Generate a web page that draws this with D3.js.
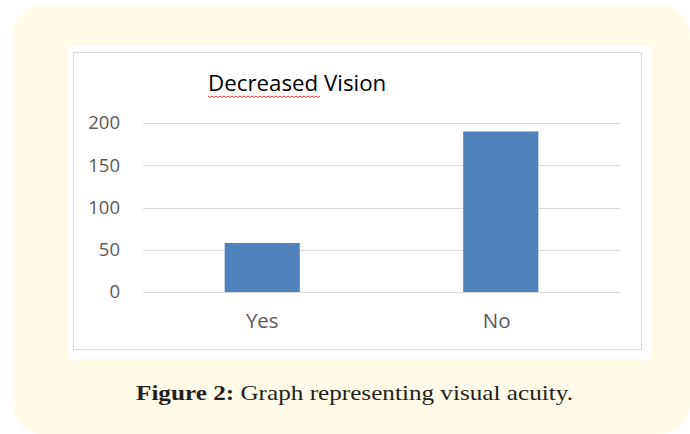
<!DOCTYPE html>
<html>
<head>
<meta charset="utf-8">
<script src="https://cdn.jsdelivr.net/npm/d3@7"></script>
<style>
  html, body { margin: 0; padding: 0; background: #ffffff; }
  svg { display: block; }
</style>
</head>
<body>
<svg id="chart" width="690" height="434"></svg>
<script>
const categories = ["Yes", "No"];
const values = [58, 190];
const yTicks = [0, 50, 100, 150, 200];
const chartTitle = "Decreased Vision";
const captionBold = "Figure 2:";
const captionText = " Graph representing visual acuity.";

const svg = d3.select("#chart");

// cream rounded background
svg.append("path")
  .attr("d", "M12.5,35 A30,30 0 0 1 42.5,5 L660,5 A30,30 0 0 1 690,35 L690,404 A30,30 0 0 1 660,434 L42.5,434 A30,30 0 0 1 12.5,404 Z")
  .attr("fill", "#fffbe8");

// white panel
svg.append("rect")
  .attr("x", 68).attr("y", 46).attr("width", 584).attr("height", 313)
  .attr("fill", "#ffffff");
// chart area border
svg.append("rect")
  .attr("x", 73.5).attr("y", 52.5).attr("width", 568).attr("height", 297)
  .attr("fill", "#ffffff").attr("stroke", "#d9d9d9").attr("stroke-width", 1);

const plotLeft = 143, plotRight = 620, plotTop = 123, plotBottom = 292;

const y = d3.scaleLinear().domain([0, 200]).range([plotBottom, plotTop]);
const x = d3.scaleBand().domain(categories).range([plotLeft, plotRight])
  .paddingInner(0.685).paddingOuter(0.3425);

// gridlines
svg.append("g").selectAll("line").data(yTicks).join("line")
  .attr("x1", plotLeft).attr("x2", plotRight)
  .attr("y1", d => Math.round(y(d)) + 0.5).attr("y2", d => Math.round(y(d)) + 0.5)
  .attr("stroke", "#d9d9d9").attr("stroke-width", 1.2);

// y axis labels
const yAxis = d3.axisLeft(y).tickValues(yTicks).tickSize(0).tickPadding(0);
const yg = svg.append("g").attr("transform", `translate(${plotLeft - 23},0)`).call(yAxis);
yg.select(".domain").remove();
yg.selectAll("text")
  .attr("font-family", "'Open Sans', sans-serif").attr("font-size", 18.5)
  .attr("fill", "#595959");

// bars
svg.append("g").selectAll("rect").data(values).join("rect")
  .attr("x", (d, i) => x(categories[i]))
  .attr("y", d => y(d))
  .attr("width", x.bandwidth())
  .attr("height", d => y(0) - y(d))
  .attr("fill", "#4f81bd");

// x axis labels
const xAxis = d3.axisBottom(x).tickSize(0).tickPadding(0);
const xg = svg.append("g").attr("transform", `translate(0,${plotBottom + 21})`).call(xAxis);
xg.select(".domain").remove();
xg.selectAll("text")
  .attr("font-family", "'Open Sans', sans-serif").attr("font-size", 20.5)
  .attr("fill", "#595959")
  .attr("dx", (d, i) => i === 1 ? -4 : 0);

// title
const titleSize = 22.3;
svg.append("text")
  .attr("x", 208).attr("y", 91)
  .attr("font-family", "'Open Sans', sans-serif").attr("font-size", titleSize)
  .attr("fill", "#000000")
  .text(chartTitle);

// red wavy spell-check underline under first word
const firstWordWidth = (() => {
  const t = svg.append("text").attr("font-family", "'Open Sans', sans-serif").attr("font-size", titleSize)
    .text(chartTitle.split(" ")[0]);
  const w = t.node().getComputedTextLength();
  t.remove();
  return w;
})();
const waveY = 96;
let wd = `M208,${waveY}`;
for (let xx = 208, k = 0; xx < 208 + firstWordWidth; xx += 2, k++) {
  wd += ` L${xx + 2},${waveY + (k % 2 === 0 ? 1.5 : 0)}`;
}
svg.append("path").attr("d", wd).attr("fill", "none")
  .attr("stroke", "#e02020").attr("stroke-width", 0.9);

// caption
const cap = svg.append("text")
  .attr("x", 136).attr("y", 400)
  .attr("font-family", "'Liberation Serif', serif").attr("font-size", 22)
  .attr("textLength", 437).attr("lengthAdjust", "spacingAndGlyphs")
  .attr("fill", "#231f20");
cap.append("tspan").attr("font-weight", "bold").text(captionBold);
cap.append("tspan").text(captionText);
</script>
</body>
</html>
